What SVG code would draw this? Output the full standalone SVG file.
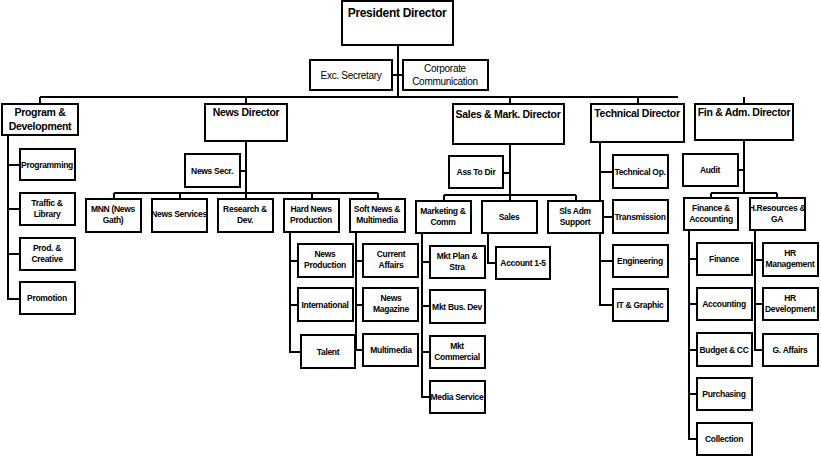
<svg xmlns="http://www.w3.org/2000/svg" width="821" height="456" viewBox="0 0 821 456">
<style>
rect{fill:#fff;stroke:#000;stroke-width:2}
text{font-family:"Liberation Sans",Arial,sans-serif;font-size:8.5px;font-weight:bold;text-anchor:middle;fill:#000;letter-spacing:-0.3px}
.d{font-size:12px}
.c path{fill:none;stroke:#000;stroke-width:2}
</style>
<rect width="821" height="456" style="stroke:none"/>
<g class="c">
<path d="M398 45V97M392 75H403M40 97H678M40 97V104M246 97V104M510 97V104M638 97V104M744 97V104"/>
<path d="M8 135V299H20M8 165H20M8 209H20M8 254H20"/>
<path d="M246 141V193M240 171H246M114 193H378M114 193V199M180 193V199M246 193V199M312 193V199M378 193V199"/>
<path d="M290 232V352H301M290 261H298M290 305H298M356 232V350H363M356 261H363M356 305H363"/>
<path d="M510 144V195M503 173H510M444 195H576M444 195V201M510 195V201M576 195V201"/>
<path d="M422 233V397H430M422 262H430M422 306H430M422 352H430M488 233V263H496"/>
<path d="M600 142V305H613M600 172H613M600 217H613M600 261H613M603 217H613"/>
<path d="M744 140V193M738 170H744M711 193H777M711 193V198M777 193V198"/>
<path d="M689 230V439H697M689 259H697M689 304H697M689 350H697M689 394H697M755 230V350H763M755 260H763M755 304H763"/>
</g>
<g id="president"><rect x="342" y="1" width="111" height="44"/><text class="d" x="397" y="17">President Director</text></g>
<g id="excsec"><rect x="310" y="60" width="82" height="30"/><text class="d" style="font-size:10px;font-weight:normal" x="351" y="79">Exc. Secretary</text></g>
<g id="corpcomm"><rect x="403" y="60" width="85" height="30"/><text style="font-size:10px;font-weight:normal" x="445" y="72">Corporate</text><text style="font-size:10px;font-weight:normal" x="445" y="85">Communication</text></g>
<g id="progdev"><rect x="2" y="104" width="76" height="31"/><text class="d" style="font-size:10.5px" x="40" y="116">Program &amp;</text><text class="d" style="font-size:10.5px" x="40" y="130">Development</text></g>
<g id="newsdir"><rect x="205" y="104" width="82" height="37"/><text class="d" style="font-size:10.5px" x="246" y="116">News Director</text></g>
<g id="salesdir"><rect x="453" y="104" width="111" height="40"/><text class="d" style="font-size:10.5px" x="508" y="118">Sales &amp; Mark. Director</text></g>
<g id="techdir"><rect x="591" y="104" width="93" height="38"/><text class="d" style="font-size:10.5px" x="637" y="117">Technical Director</text></g>
<g id="findir"><rect x="695" y="104" width="98" height="36"/><text class="d" style="font-size:10.5px" x="744" y="116">Fin &amp; Adm. Director</text></g>

<g id="programming"><rect x="20" y="149" width="55" height="31"/><text x="47" y="168">Programming</text></g>
<g id="traffic"><rect x="20" y="193" width="55" height="32"/><text x="47" y="206">Traffic &amp;</text><text x="47" y="217">Library</text></g>
<g id="prod"><rect x="20" y="238" width="55" height="32"/><text x="47" y="251">Prod. &amp;</text><text x="47" y="262">Creative</text></g>
<g id="promotion"><rect x="20" y="282" width="55" height="32"/><text x="47" y="301">Promotion</text></g>

<g id="newssecr"><rect x="185" y="154" width="55" height="33"/><text x="212" y="174">News Secr.</text></g>
<g id="mnn"><rect x="86" y="199" width="55" height="33"/><text x="113" y="212">MNN (News</text><text x="113" y="223">Gath)</text></g>
<g id="newsserv"><rect x="152" y="199" width="55" height="33"/><text x="179" y="217">News Services</text></g>
<g id="research"><rect x="218" y="199" width="55" height="33"/><text x="245" y="212">Research &amp;</text><text x="245" y="223">Dev.</text></g>
<g id="hardnews"><rect x="284" y="199" width="55" height="33"/><text x="311" y="212">Hard News</text><text x="311" y="223">Production</text></g>
<g id="softnews"><rect x="350" y="199" width="55" height="33"/><text x="377" y="212">Soft News &amp;</text><text x="377" y="223">Multimedia</text></g>
<g id="newsprod"><rect x="298" y="244" width="55" height="33"/><text x="325" y="257">News</text><text x="325" y="268">Production</text></g>
<g id="intl"><rect x="298" y="288" width="55" height="33"/><text x="325" y="308">International</text></g>
<g id="talent"><rect x="301" y="335" width="54" height="33"/><text x="328" y="355">Talent</text></g>
<g id="curaff"><rect x="363" y="244" width="55" height="33"/><text x="391" y="257">Current</text><text x="391" y="268">Affairs</text></g>
<g id="newsmag"><rect x="363" y="288" width="55" height="33"/><text x="391" y="301">News</text><text x="391" y="312">Magazine</text></g>
<g id="multimedia"><rect x="363" y="334" width="55" height="32"/><text x="391" y="353">Multimedia</text></g>

<g id="asstodir"><rect x="449" y="156" width="54" height="32"/><text x="476" y="175">Ass To Dir</text></g>
<g id="mktcomm"><rect x="416" y="201" width="55" height="32"/><text x="443" y="214">Marketing &amp;</text><text x="443" y="225">Comm</text></g>
<g id="sales"><rect x="482" y="201" width="55" height="32"/><text x="509" y="220">Sales</text></g>
<g id="slsadm"><rect x="548" y="201" width="55" height="32"/><text x="575" y="214">Sls Adm</text><text x="575" y="225">Support</text></g>
<g id="mktplan"><rect x="430" y="246" width="55" height="32"/><text x="457" y="259">Mkt Plan &amp;</text><text x="457" y="270">Stra</text></g>
<g id="mktbus"><rect x="430" y="290" width="55" height="33"/><text x="457" y="310">Mkt Bus. Dev</text></g>
<g id="mktcom2"><rect x="430" y="336" width="55" height="32"/><text x="457" y="349">Mkt</text><text x="457" y="360">Commercial</text></g>
<g id="media"><rect x="430" y="381" width="55" height="32"/><text x="457" y="400">Media Service</text></g>
<g id="account"><rect x="496" y="247" width="54" height="32"/><text x="523" y="266">Account 1-5</text></g>

<g id="techop"><rect x="613" y="155" width="55" height="33"/><text x="640" y="175">Technical Op.</text></g>
<g id="transmission"><rect x="613" y="200" width="55" height="33"/><text x="640" y="220">Transmission</text></g>
<g id="engineering"><rect x="613" y="245" width="55" height="32"/><text x="640" y="264">Engineering</text></g>
<g id="itgraphic"><rect x="613" y="289" width="55" height="32"/><text x="640" y="308">IT &amp; Graphic</text></g>

<g id="audit"><rect x="683" y="154" width="55" height="32"/><text x="710" y="173">Audit</text></g>
<g id="finacc"><rect x="684" y="198" width="54" height="32"/><text x="711" y="211">Finance &amp;</text><text x="711" y="222">Accounting</text></g>
<g id="hrga"><rect x="750" y="198" width="55" height="32"/><text x="777" y="211">H.Resources &amp;</text><text x="777" y="222">GA</text></g>
<g id="finance"><rect x="697" y="243" width="55" height="32"/><text x="724" y="262">Finance</text></g>
<g id="accounting"><rect x="697" y="288" width="55" height="32"/><text x="724" y="307">Accounting</text></g>
<g id="budget"><rect x="697" y="333" width="55" height="33"/><text x="724" y="353">Budget &amp; CC</text></g>
<g id="purchasing"><rect x="697" y="378" width="55" height="32"/><text x="724" y="397">Purchasing</text></g>
<g id="collection"><rect x="697" y="423" width="55" height="32"/><text x="724" y="442">Collection</text></g>
<g id="hrman"><rect x="763" y="243" width="55" height="33"/><text x="790" y="256">HR</text><text x="790" y="267">Management</text></g>
<g id="hrdev"><rect x="763" y="288" width="55" height="32"/><text x="790" y="301">HR</text><text x="790" y="312">Development</text></g>
<g id="gaff"><rect x="763" y="334" width="55" height="32"/><text x="790" y="353">G. Affairs</text></g>
</svg>
